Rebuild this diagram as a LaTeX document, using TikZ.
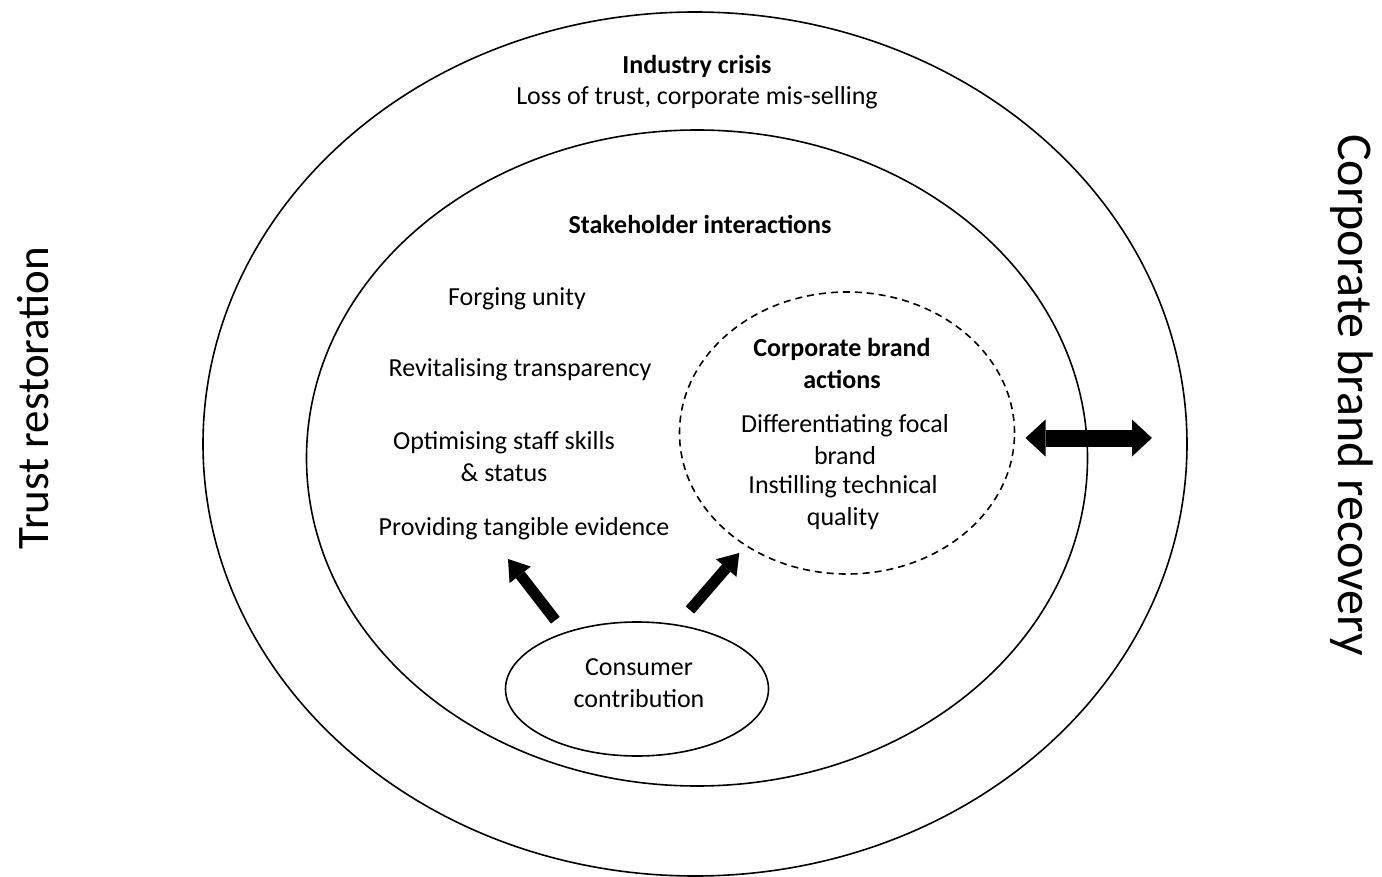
\documentclass[tikz,border=0pt]{standalone}
\usepackage{fontspec}
\setmainfont{Carlito}
\usetikzlibrary{arrows.meta,shapes.geometric}

\begin{document}
\begin{tikzpicture}[x=1pt,y=-1pt,font=\fontsize{26}{32}\selectfont,
    ring/.style={draw,ellipse,line width=1.6pt,inner sep=0pt,outer sep=0pt},
    txt/.style={align=center,inner sep=0pt},
    head/.style={txt,font=\fontsize{26}{32}\selectfont\bfseries},
    fat/.style={line width=11pt,-{Triangle[width=27pt,length=20pt,line width=0pt]}},
    fatboth/.style={line width=17pt,{Triangle[width=37pt,length=20pt,line width=0pt]}-{Triangle[width=37pt,length=20pt,line width=0pt]}}]
  \fill[white] (0,0) rectangle (1382,877);
  \useasboundingbox (0,0) rectangle (1382,877);

  % the nested rings
  \node[ring,minimum width=984pt,minimum height=864pt] (crisis) at (695,444) {};
  \node[ring,minimum width=781pt,minimum height=656pt] (stake) at (697,458) {};
  \node[ring,dash pattern=on 7pt off 5pt,minimum width=335pt,minimum height=282pt] (actions) at (847,433) {};
  \node[ring,minimum width=263pt,minimum height=134pt] (consumer) at (637,689) {};

  % texts inside the rings
  \node[head] (crisistitle) at (697,66) {Industry crisis};
  \node[txt] (crisistext) at (697,98) {Loss of trust, corporate mis-selling};
  \node[head] (staketitle) at (700,224) {Stakeholder interactions};
  \node[txt] (unity) at (517,299) {Forging unity};
  \node[txt] (transparency) at (520,370) {Revitalising transparency};
  \node[txt] (skills) at (504,457) {Optimising staff skills\\\& status};
  \node[txt] (evidence) at (524,529) {Providing tangible evidence};
  \node[head] (actionstitle) at (842,363) {Corporate brand\\actions};
  \node[txt] (focal) at (845,440) {Differentiating focal\\brand};
  \node[txt] (quality) at (843,503) {Instilling technical\\quality};
  \node[txt] (consumertext) at (639,683) {Consumer\\contribution};

  % side labels
  \node[rotate=90,anchor=base,font=\fontsize{45}{54}\selectfont] (trust) at (48,398) {Trust restoration};
  \node[rotate=-90,anchor=base,font=\fontsize{50}{60}\selectfont] (recovery) at (1338,395) {Corporate brand recovery};

  % block arrows
  \coordinate (evidencetip) at (508,559);
  \coordinate (recoverytip) at (1152,438);
  \draw[fat,shorten <=16pt] (consumer.142) -- (evidencetip);
  \draw[fat,shorten <=20pt,shorten >=10pt] (consumer.58) -- (actions.228);
  \draw[fatboth,shorten <=11pt] (actions.east |- recoverytip) -- (recoverytip);
\end{tikzpicture}
\end{document}
